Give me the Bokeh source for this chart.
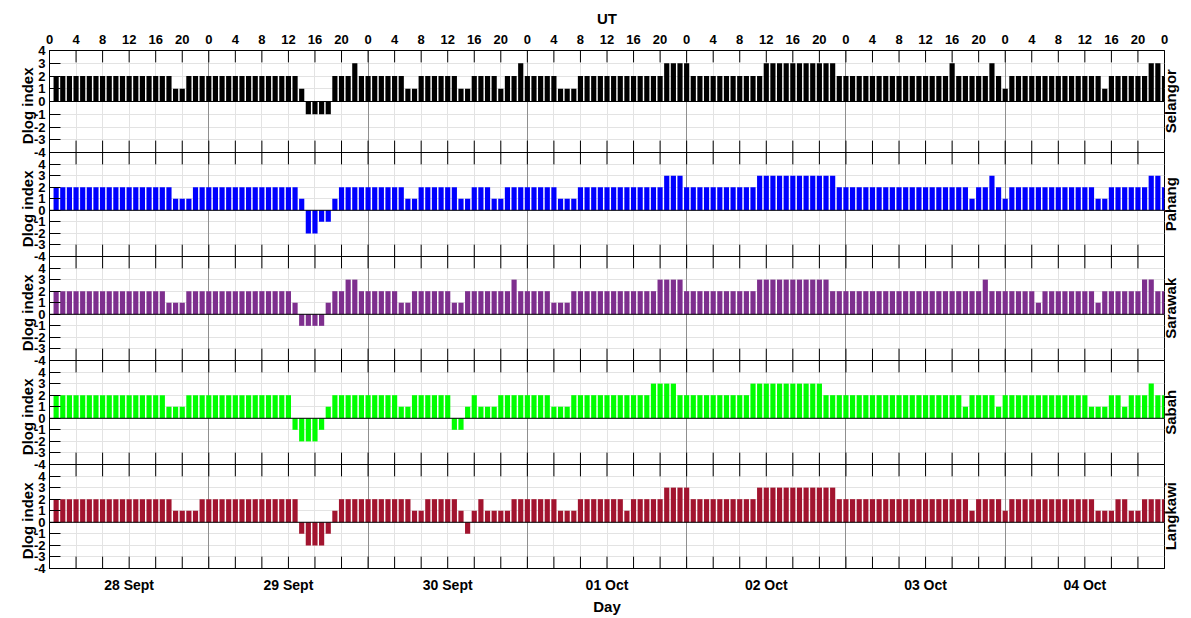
import math
from bokeh.plotting import figure
from bokeh.models import (Range1d, FixedTicker, LinearAxis, Span, Grid,
                          ColumnDataSource)
from bokeh.embed import file_html
from bokeh.resources import INLINE

# ---------------- data ----------------
hours = list(range(1, 169))
ut_ticks = list(range(0, 169, 4))
ut_tick_labels = [str(t % 24) for t in ut_ticks]
day_boundaries = [24, 48, 72, 96, 120, 144]
day_centers = [12, 36, 60, 84, 108, 132, 156]
day_labels = ["28 Sept", "29 Sept", "30 Sept", "01 Oct", "02 Oct", "03 Oct", "04 Oct"]
y_ticks = [-4, -3, -2, -1, 0, 1, 2, 3, 4]
y_tops = [4, 5, 5, 5, 5]          # upper y limit of each panel (lower limit is -4)

stations = ["Selangor", "Pahang", "Sarawak", "Sabah", "Langkawi"]
colors = ["#000000", "#0000FF", "#7E2F8E", "#00FF00", "#A2142F"]

selangor = [
    2, 2, 2, 2, 2, 2, 2, 2, 2, 2, 2, 2, 2, 2, 2, 2, 2, 2, 1, 1, 2, 2, 2, 2,
    2, 2, 2, 2, 2, 2, 2, 2, 2, 2, 2, 2, 2, 1, -1, -1, -1, -1, 2, 2, 2, 3, 2, 2,
    2, 2, 2, 2, 2, 1, 1, 2, 2, 2, 2, 2, 2, 1, 1, 2, 2, 2, 2, 1, 2, 2, 3, 2,
    2, 2, 2, 2, 1, 1, 1, 2, 2, 2, 2, 2, 2, 2, 2, 2, 2, 2, 2, 2, 3, 3, 3, 3,
    2, 2, 2, 2, 2, 2, 2, 2, 2, 2, 2, 3, 3, 3, 3, 3, 3, 3, 3, 3, 3, 3, 2, 2,
    2, 2, 2, 2, 2, 2, 2, 2, 2, 2, 2, 2, 2, 2, 2, 3, 2, 2, 2, 2, 2, 3, 2, 1,
    2, 2, 2, 2, 2, 2, 2, 2, 2, 2, 2, 2, 2, 2, 1, 2, 2, 2, 2, 2, 2, 3, 3, 2,
]
pahang = [
    2, 2, 2, 2, 2, 2, 2, 2, 2, 2, 2, 2, 2, 2, 2, 2, 2, 2, 1, 1, 1, 2, 2, 2,
    2, 2, 2, 2, 2, 2, 2, 2, 2, 2, 2, 2, 2, 1, -2, -2, -1, -1, 1, 2, 2, 2, 2, 2,
    2, 2, 2, 2, 2, 1, 1, 2, 2, 2, 2, 2, 2, 1, 1, 2, 2, 2, 1, 1, 2, 2, 2, 2,
    2, 2, 2, 2, 1, 1, 1, 2, 2, 2, 2, 2, 2, 2, 2, 2, 2, 2, 2, 2, 3, 3, 3, 2,
    2, 2, 2, 2, 2, 2, 2, 2, 2, 2, 3, 3, 3, 3, 3, 3, 3, 3, 3, 3, 3, 3, 2, 2,
    2, 2, 2, 2, 2, 2, 2, 2, 2, 2, 2, 2, 2, 2, 2, 2, 2, 2, 1, 2, 2, 3, 2, 1,
    2, 2, 2, 2, 2, 2, 2, 2, 2, 2, 2, 2, 2, 1, 1, 2, 2, 2, 2, 2, 2, 3, 3, 2,
]
sarawak = [
    2, 2, 2, 2, 2, 2, 2, 2, 2, 2, 2, 2, 2, 2, 2, 2, 2, 1, 1, 1, 2, 2, 2, 2,
    2, 2, 2, 2, 2, 2, 2, 2, 2, 2, 2, 2, 1, -1, -1, -1, -1, 1, 2, 2, 3, 3, 2, 2,
    2, 2, 2, 2, 1, 1, 2, 2, 2, 2, 2, 2, 1, 1, 2, 2, 2, 2, 2, 2, 2, 3, 2, 2,
    2, 2, 2, 1, 1, 1, 2, 2, 2, 2, 2, 2, 2, 2, 2, 2, 2, 2, 2, 3, 3, 3, 3, 2,
    2, 2, 2, 2, 2, 2, 2, 2, 2, 2, 3, 3, 3, 3, 3, 3, 3, 3, 3, 3, 3, 2, 2, 2,
    2, 2, 2, 2, 2, 2, 2, 2, 2, 2, 2, 2, 2, 2, 2, 2, 2, 2, 2, 2, 3, 2, 2, 2,
    2, 2, 2, 2, 1, 2, 2, 2, 2, 2, 2, 2, 2, 1, 2, 2, 2, 2, 2, 2, 3, 3, 2, 2,
]
sabah = [
    2, 2, 2, 2, 2, 2, 2, 2, 2, 2, 2, 2, 2, 2, 2, 2, 2, 1, 1, 1, 2, 2, 2, 2,
    2, 2, 2, 2, 2, 2, 2, 2, 2, 2, 2, 2, -1, -2, -2, -2, -1, 1, 2, 2, 2, 2, 2, 2,
    2, 2, 2, 2, 1, 1, 2, 2, 2, 2, 2, 2, -1, -1, 1, 2, 1, 1, 1, 2, 2, 2, 2, 2,
    2, 2, 2, 1, 1, 1, 2, 2, 2, 2, 2, 2, 2, 2, 2, 2, 2, 2, 3, 3, 3, 3, 2, 2,
    2, 2, 2, 2, 2, 2, 2, 2, 2, 3, 3, 3, 3, 3, 3, 3, 3, 3, 3, 3, 2, 2, 2, 2,
    2, 2, 2, 2, 2, 2, 2, 2, 2, 2, 2, 2, 2, 2, 2, 2, 2, 1, 2, 2, 2, 2, 1, 2,
    2, 2, 2, 2, 2, 2, 2, 2, 2, 2, 2, 2, 1, 1, 1, 2, 2, 1, 2, 2, 2, 3, 2, 2,
]
langkawi = [
    2, 2, 2, 2, 2, 2, 2, 2, 2, 2, 2, 2, 2, 2, 2, 2, 2, 2, 1, 1, 1, 1, 2, 2,
    2, 2, 2, 2, 2, 2, 2, 2, 2, 2, 2, 2, 2, -1, -2, -2, -2, -1, 1, 2, 2, 2, 2, 2,
    2, 2, 2, 2, 2, 2, 1, 1, 2, 2, 2, 2, 2, 1, -1, 1, 2, 1, 1, 1, 1, 2, 2, 2,
    2, 2, 2, 2, 1, 1, 1, 2, 2, 2, 2, 2, 2, 2, 1, 2, 2, 2, 2, 2, 3, 3, 3, 3,
    2, 2, 2, 2, 2, 2, 2, 2, 2, 2, 3, 3, 3, 3, 3, 3, 3, 3, 3, 3, 3, 3, 2, 2,
    2, 2, 2, 2, 2, 2, 2, 2, 2, 2, 2, 2, 2, 2, 2, 2, 2, 2, 1, 2, 2, 2, 2, 1,
    2, 2, 2, 2, 2, 2, 2, 2, 2, 2, 2, 2, 2, 1, 1, 1, 2, 2, 1, 1, 2, 2, 2, 2,
]
series = [selangor, pahang, sarawak, sabah, langkawi]
side_label = "Dlog index"

# ---------------- layout / style ----------------
FONT = "Liberation Sans"
W, H = 1190, 617
LEFT, RIGHT, TOP, BOTTOM = 49, 24, 50, 44
FRAME_H = H - TOP - BOTTOM            # 523 px shared by the five panels
band_px = [103, 105, 105, 105, 105]   # panel heights, top to bottom
TICK_PX = 12
SIDE_FONT_PX = 15

# approximate advance widths of Liberation Sans Bold (per 1000 em), used
# to centre the rotated side labels on their panels
ADV = {"S": 667, "e": 556, "l": 278, "a": 556, "n": 611, "g": 611, "o": 611,
       "r": 389, "P": 667, "h": 611, "w": 778, "k": 556, "b": 611, "i": 278,
       "L": 611, "D": 722, "x": 556, "d": 611, " ": 278}


def text_len(s, px):
    return sum(ADV.get(c, 600) for c in s) / 1000.0 * px


# bottom pixel of every band (measured from the frame bottom)
band_bottom = []
acc = FRAME_H
for hpx in band_px:
    acc -= hpx
    band_bottom.append(acc)

p = figure(width=W, height=H, x_range=Range1d(0, 168),
           y_range=Range1d(0, FRAME_H), output_backend="svg",
           toolbar_location=None, x_axis_location=None,
           min_border_left=LEFT, min_border_right=RIGHT,
           min_border_top=TOP, min_border_bottom=BOTTOM)
p.background_fill_color = "white"
p.border_fill_color = "white"
p.outline_line_color = "black"
p.outline_line_width = 1

label_pos, label_txt = [], {}
center_pos = []
for k, name in enumerate(stations):
    lo, hi = -4, y_tops[k]
    b = band_bottom[k]
    t = b + band_px[k]
    s = (t - b) / (hi - lo)  # px per unit
    p.extra_y_ranges[f"p{k}"] = Range1d(lo - b / s, lo + (FRAME_H - b) / s)
    for v in y_ticks:
        pos = b + (v - lo) * s
        label_pos.append(pos)
        label_txt[pos] = str(v)
    center_pos.append((b + t) / 2)

# left tick labels
ya = p.yaxis[0]
ya.ticker = FixedTicker(ticks=label_pos)
ya.major_label_overrides = label_txt
ya.major_tick_in = 11
ya.major_tick_out = 0
ya.minor_tick_in = 0
ya.minor_tick_out = 0
ya.major_tick_line_color = "black"
ya.axis_line_color = "black"
ya.major_label_text_font = FONT
ya.major_label_text_font_style = "bold"
ya.major_label_text_font_size = "13px"
ya.major_label_text_color = "black"
ya.major_label_standoff = 4

# "Dlog index" per panel (second left axis, further out); rotated labels are
# anchored near their top end, so shift the anchor up by about half the text
half_dl = text_len(side_label, SIDE_FONT_PX) / 2 - 4
dl_pos = [c + half_dl for c in center_pos]
dl = LinearAxis(ticker=FixedTicker(ticks=dl_pos),
                major_label_overrides={c: side_label for c in dl_pos})
dl.major_label_orientation = math.pi / 2
dl.major_tick_in = 0
dl.major_tick_out = 0
dl.minor_tick_in = 0
dl.minor_tick_out = 0
dl.axis_line_color = None
dl.major_label_standoff = 3
dl.major_label_text_font = FONT
dl.major_label_text_font_style = "bold"
dl.major_label_text_font_size = f"{SIDE_FONT_PX}px"
dl.major_label_text_color = "black"
p.add_layout(dl, "left")

# station names on the right (anchored at their bottom end)
st_pos = [c - text_len(nm, SIDE_FONT_PX) / 2 for c, nm in zip(center_pos, stations)]
ra = LinearAxis(ticker=FixedTicker(ticks=st_pos),
                major_label_overrides=dict(zip(st_pos, stations)))
ra.major_label_orientation = math.pi / 2
ra.major_tick_in = 0
ra.major_tick_out = 0
ra.minor_tick_in = 0
ra.minor_tick_out = 0
ra.axis_line_color = None
ra.major_label_standoff = 6
ra.major_label_text_font = FONT
ra.major_label_text_font_style = "bold"
ra.major_label_text_font_size = f"{SIDE_FONT_PX}px"
ra.major_label_text_color = "black"
p.add_layout(ra, "right")

# grids
p.ygrid.ticker = FixedTicker(ticks=label_pos)
p.ygrid.grid_line_color = "#e3e3e3"
p.xgrid.ticker = FixedTicker(ticks=ut_ticks)
p.xgrid.grid_line_color = "#e3e3e3"
p.add_layout(Grid(dimension=0, ticker=FixedTicker(ticks=day_boundaries),
                  grid_line_color="#8f8f8f", grid_line_width=1))

# panels
n = len(ut_ticks)
for k, (col, vals) in enumerate(zip(colors, series)):
    rn = f"p{k}"
    lo, hi = -4, y_tops[k]
    s = band_px[k] / (hi - lo)
    src = ColumnDataSource(dict(hour=hours, val=vals))
    p.vbar(x="hour", top="val", bottom=0, width=0.78, source=src,
           fill_color=col, line_color=None, y_range_name=rn)
    p.add_layout(Span(location=0, dimension="width", line_color="black",
                      line_width=1, y_range_name=rn))
    if k < len(stations) - 1:
        p.add_layout(Span(location=lo, dimension="width", line_color="black",
                          line_width=1, y_range_name=rn))
    tl = TICK_PX / s
    tsrc = ColumnDataSource(dict(x=ut_ticks, yt0=[hi] * n, yt1=[hi - tl] * n,
                                 yb0=[lo] * n, yb1=[lo + tl] * n))
    p.segment(x0="x", y0="yt0", x1="x", y1="yt1", source=tsrc,
              line_color="black", line_width=1, y_range_name=rn)
    p.segment(x0="x", y0="yb0", x1="x", y1="yb1", source=tsrc,
              line_color="black", line_width=1, y_range_name=rn)

# top UT axis
ax = LinearAxis(ticker=FixedTicker(ticks=ut_ticks),
                major_label_overrides=dict(zip(ut_ticks, ut_tick_labels)),
                axis_label="UT")
ax.major_tick_in = 0
ax.major_tick_out = 0
ax.minor_tick_in = 0
ax.minor_tick_out = 0
ax.axis_line_color = "black"
ax.major_label_standoff = 7
ax.major_label_text_font = FONT
ax.major_label_text_font_style = "bold"
ax.major_label_text_font_size = "13px"
ax.major_label_text_color = "black"
ax.axis_label_text_font = FONT
ax.axis_label_text_font_style = "bold"
ax.axis_label_text_font_size = "15px"
ax.axis_label_text_color = "black"
ax.axis_label_standoff = 5
p.add_layout(ax, "above")

# bottom day axis
bx = LinearAxis(ticker=FixedTicker(ticks=day_centers),
                major_label_overrides=dict(zip(day_centers, day_labels)),
                axis_label="Day")
bx.major_tick_in = 0
bx.major_tick_out = 0
bx.minor_tick_in = 0
bx.minor_tick_out = 0
bx.axis_line_color = "black"
bx.major_label_standoff = 8
bx.major_label_text_font = FONT
bx.major_label_text_font_style = "bold"
bx.major_label_text_font_size = "14px"
bx.major_label_text_color = "black"
bx.axis_label_text_font = FONT
bx.axis_label_text_font_style = "bold"
bx.axis_label_text_font_size = "15px"
bx.axis_label_text_color = "black"
bx.axis_label_standoff = 2
p.add_layout(bx, "below")

open("out.html", "w").write(file_html(p, INLINE))
